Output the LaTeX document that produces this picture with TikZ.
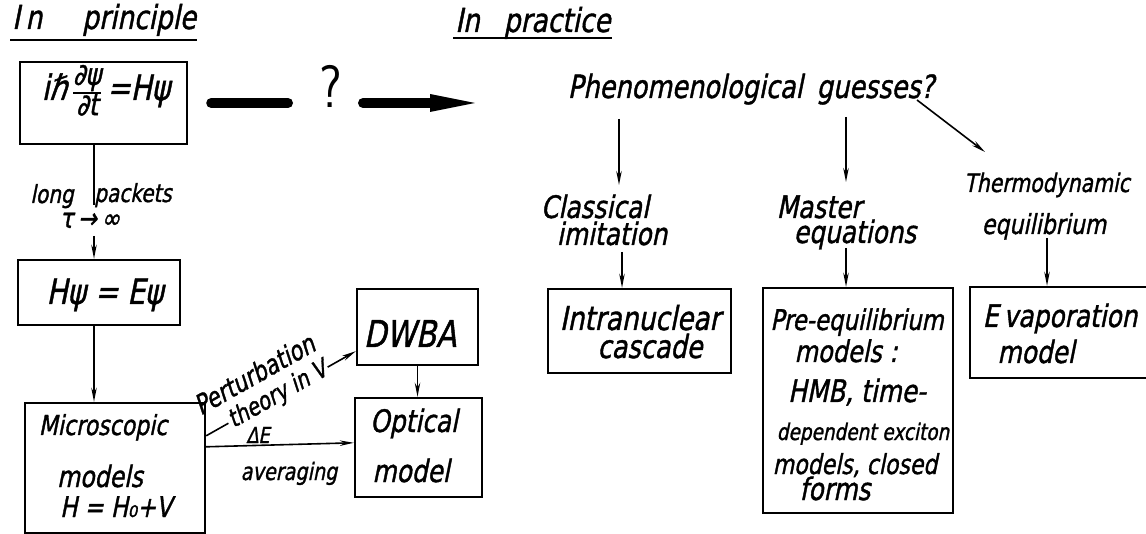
\documentclass[tikz,border=0pt]{standalone}
\usepackage{fontspec}
\setmainfont{DejaVu Sans}[FakeSlant=0.2,FakeStretch=0.8,FakeBold=1.2]
\usetikzlibrary{arrows.meta,calc}
\newcommand\fsz[1]{\fontsize{#1}{#1}\selectfont}
\setlength{\arrayrulewidth}{2pt}

\begin{document}
\begin{tikzpicture}[x=1pt,y=-1pt,
  box/.style={draw,line width=2.4pt,inner sep=0pt},
  txt/.style={anchor=base,inner sep=0pt},
  link/.style={line width=1.6pt},
  arr/.style={line width=1.6pt,-{Stealth[length=14pt,width=5.5pt]}},
  bigline/.style={line width=10pt,line cap=round},
  ul/.style={line width=2.4pt}]
\useasboundingbox (0,0) rectangle (1146,534);
\clip (0,0) rectangle (1146,534);

% ---------- headings ----------
\node[txt,anchor=base west,font=\fsz{33}] (hp) at (12,29) {I\,n\hspace{40pt}principle};
\draw[ul] ($(hp.base west)+(-2,11)$) -- ($(hp.base east)+(1,11)$);
\node[txt,anchor=base west,font=\fsz{33}] (hq) at (455,32) {In\hspace{24pt}practice};
\draw[ul] ($(hq.base west)+(-2,6)$) -- ($(hq.base east)+(1,6)$);

% ---------- left column: boxes ----------
\node[box,minimum width=167pt,minimum height=82pt] (se) at (103.5,103) {};
\node[txt,font=\fsz{35}] (sef) at (106,100)
  {iℏ\,{\renewcommand{\arraystretch}{0.7}\begin{tabular}{@{}c@{}}{\fsz{30}∂ψ}\\\hline{\fsz{30}∂t}\end{tabular}}\,=Hψ};

\node[box,minimum width=162pt,minimum height=65pt] (hb) at (99,292.5) {};
\node[txt,font=\fsz{35}] (hbf) at (105,304) {Hψ = Eψ};

\node[box,minimum width=180pt,minimum height=130pt] (micro) at (115,468) {};
\node[txt,font=\fsz{27.5}] (m1) at (103,435) {Microscopic};
\node[txt,font=\fsz{29.5}] (m2) at (100,487) {models};
\node[txt,font=\fsz{28.5}] (m3) at (116,517) {H = H₀+V};

\node[box,minimum width=121pt,minimum height=76pt] (dwba) at (417.5,327) {};
\node[txt,font=\fsz{37}] (dw) at (410,347) {DWBA};

\node[box,minimum width=127pt,minimum height=99pt] (opt) at (418.5,447.5) {};
\node[txt,font=\fsz{31}] (o1) at (414,432) {Optical};
\node[txt,font=\fsz{31}] (o2) at (411,482) {model};

% ---------- left column: connectors ----------
\coordinate (lp1) at (94,205);
\coordinate (lp2) at (94,236);
\draw[link] (lp1 |- se.south) -- (lp1);
\node[txt,font=\fsz{25}] (lg) at (52,203) {long};
\node[txt,font=\fsz{25}] (pk) at (133,202) {packets};
\node[txt,font=\fsz{28}] (tau) at (90,228) {τ\,→\,∞};
\draw[arr] (lp2) -- (lp2 |- hb.north);
\draw[arr] (lp2 |- hb.south) -- (lp2 |- micro.north);

\draw[arr] ($(micro.north east)+(0,34)$) --
  node[sloped,pos=0.48,fill=white,inner sep=2pt,font=\fsz{25}] (pt2) {theory in V}
  node[sloped,pos=0.42,above=19pt,inner sep=0pt,font=\fsz{27}] (pt1) {Perturbation}
  ($(dwba.south west)+(0,-15)$);

\draw[arr] ($(micro.north east)+(0,45)$) -- ($(opt.north west)+(0,46)$);
\node[txt,font=\fsz{22}] (de) at (258,443) {ΔE};
\node[txt,font=\fsz{24}] (av) at (289,480) {averaging};

\draw[arr] (dwba.south) -- (dwba.south |- opt.north);

% ---------- the leap from principle to practice ----------
\node[font=\sffamily\fsz{60},inner sep=0pt,xscale=0.85] (q) at (331,86) {?};
\draw[bigline] ($(se.east)+(23,0)$) -- ($(q.center |- se.east)+(-43,0)$);
\draw[bigline,-{Triangle[length=45pt,width=18pt,line width=0pt]}]
  ($(q.center |- se.east)+(32,0)$) -- ($(q.center |- se.east)+(144,0)$);

% ---------- right column ----------
\node[txt,font=\fsz{32}] (phen) at (751,98) {Phenomenological\hspace{14pt}guesses?};

\node[txt,font=\fsz{31}] (cl1) at (595,218) {Classical};
\node[txt,font=\fsz{31}] (cl2) at (612,245) {imitation};
\node[txt,font=\fsz{31}] (ma1) at (819,218) {Master};
\node[txt,font=\fsz{31}] (ma2) at (855,243) {equations};
\node[txt,font=\fsz{25.5}] (th1) at (1047,192) {Thermodynamic};
\node[txt,font=\fsz{27.5}] (th2) at (1044,234) {equilibrium};

\coordinate (a1) at (619,185);
\coordinate (a2) at (846,182);
\coordinate (d0) at (917,100);
\coordinate (d1) at (985,152);
\draw[arr] ($(phen.south -| a1)+(0,14)$) -- (a1);
\draw[arr] ($(phen.south -| a2)+(0,12)$) -- (a2);
\draw[arr] (d0) -- (d1);

\node[box,minimum width=183pt,minimum height=84pt] (inc) at (639.5,331) {};
\node[txt,font=\fsz{33}] (i1) at (640,330) {Intranuclear};
\node[txt,font=\fsz{32}] (i2) at (650,358) {cascade};

\node[box,minimum width=190pt,minimum height=225pt] (pre) at (858,400.5) {};
\node[txt,font=\fsz{28.5}] (p1) at (857,330) {Pre-equilibrium};
\node[txt,font=\fsz{30}] (p2) at (846,362) {models :};
\node[txt,font=\fsz{31}] (p3) at (857,402) {HMB, time-};
\node[txt,font=\fsz{23}] (p4) at (863,440) {dependent exciton};
\node[txt,font=\fsz{27.5}] (p5) at (855,474) {models, closed};
\node[txt,font=\fsz{31}] (p6) at (835,500) {forms};

\node[box,minimum width=190pt,minimum height=91pt] (evap) at (1065,332.5) {};
\node[txt,font=\fsz{31}] (e1) at (1060,327) {E\,vaporation};
\node[txt,font=\fsz{31}] (e2) at (1036,363) {model};

\coordinate (k1) at (622,252);
\coordinate (k2) at (846,248);
\coordinate (k3) at (1047,238);
\draw[arr] (k1) -- (k1 |- inc.north);
\draw[arr] (k2) -- (k2 |- pre.north);
\draw[arr] (k3) -- (k3 |- evap.north);
\end{tikzpicture}
\end{document}
